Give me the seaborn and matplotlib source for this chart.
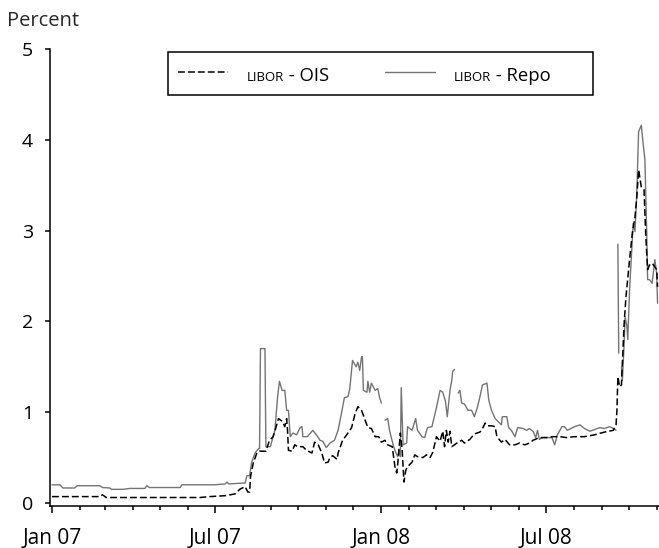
import numpy as np
import pandas as pd
import matplotlib
matplotlib.use("Agg")
import matplotlib.pyplot as plt
import matplotlib.dates as mdates
from matplotlib.lines import Line2D
from matplotlib.patches import Rectangle
from matplotlib.offsetbox import AnchoredOffsetbox, DrawingArea, HPacker, TextArea
import seaborn as sns

START = pd.Timestamp("2007-01-01")
nan = np.nan

# days after 1 Jan 2007 and spread in percent
ois_days = [0, 53, 56, 60, 164, 175, 192, 203, 208, 214,
            217, 219, 220, 223, 227, 230, 237, 241, 245, 249,
            251, 255, 258, 260, 261, 262, 266, 269, 272, 278,
            282, 288, 291, 295, 299, 302, 306, 308, 311, 316,
            317, 322, 328, 332, 336, 339, 343, 347, 350, 354,
            358, 362, 365, 369, 372, 377, 380, 382, 383, 386,
            388, 390, 392, 394, 399, 402, 405, 411, 415, 419,
            422, 426, 430, 433, 435, 437, 439, 441, 443, 446,
            450, 454, 457, 463, 468, 474, 476, 480, 483, 487,
            491, 493, 498, 502, 507, 513, 518, 524, 529, 533,
            540, 548, 555, 563, 570, 579, 590, 601, 612, 622,
            625, 626, 627, 629, 631, 632, 634, 636, 640, 643,
            646, 648, 650, 653, 656, 658, 660, 662, 665, 668,
            670, 671]
ois_values = [0.07, 0.07, 0.09, 0.06, 0.06, 0.07, 0.08, 0.10, 0.15, 0.18,
              0.12, 0.12, 0.29, 0.44, 0.55, 0.57, 0.57, 0.69, 0.73, 0.86,
              0.93, 0.90, 0.84, 0.93, 0.80, 0.58, 0.57, 0.64, 0.62, 0.62,
              0.58, 0.55, 0.67, 0.64, 0.55, 0.44, 0.45, 0.50, 0.52, 0.48,
              0.55, 0.69, 0.77, 0.83, 0.99, 1.06, 1.02, 0.91, 0.83, 0.82,
              0.73, 0.73, 0.67, 0.69, 0.64, 0.62, 0.40, 0.33, 0.42, 0.77,
              0.58, 0.23, 0.36, 0.40, 0.45, 0.53, 0.51, 0.50, 0.53, 0.50,
              0.56, 0.73, 0.68, 0.79, 0.62, 0.80, 0.67, 0.79, 0.62, 0.64,
              0.67, 0.69, 0.66, 0.70, 0.76, 0.78, 0.80, 0.88, 0.85, 0.85,
              0.84, 0.73, 0.67, 0.70, 0.64, 0.64, 0.66, 0.64, 0.66, 0.69,
              0.72, 0.72, 0.73, 0.73, 0.72, 0.73, 0.73, 0.75, 0.78, 0.80,
              0.86, 1.02, 1.39, 1.28, 1.30, 1.54, 1.98, 2.27, 2.68, 2.97,
              3.15, 3.37, 3.67, 3.48, 3.45, 2.93, 2.57, 2.62, 2.64, 2.60,
              2.57, 2.38]

# nan marks days without a repo quote (gaps in the line)
repo_days = [0, 9, 12, 25, 28, 53, 56, 64, 66, 79,
             86, 103, 105, 108, 142, 144, 180, 192, 194, 196,
             214, 216, 219, 221, 225, 229, 230, 231, 236, 237,
             242, 247, 250, 252, 255, 258, 260, 262, 264, 267,
             271, 275, 277, 278, 283, 289, 293, 297, 300, 304,
             308, 313, 317, 321, 324, 328, 330, 333, 337, 339,
             341, 343, 344, 345, 349, 350, 352, 354, 358, 361,
             363, 365, 366, 369, 372, 374, 378, 380, 383, 385,
             386, 387, 389, 393, 394, 399, 403, 405, 410, 413,
             416, 421, 426, 430, 433, 436, 438, 441, 443, 444,
             446, 448, 450, 452, 454, 457, 461, 465, 468, 471,
             474, 477, 482, 484, 487, 491, 494, 498, 499, 504,
             506, 509, 513, 516, 522, 526, 529, 533, 536, 538,
             540, 544, 548, 554, 557, 560, 565, 568, 571, 579,
             585, 590, 596, 607, 612, 618, 622, 625, 626, 627,
             628, 629, 631, 632, 634, 635, 637, 638, 640, 644,
             646, 648, 650, 653, 655, 657, 659, 660, 662, 665,
             668, 670, 671]
repo_values = [0.20, 0.20, 0.165, 0.165, 0.19, 0.19, 0.17, 0.165, 0.15, 0.15,
               0.16, 0.16, 0.19, 0.17, 0.17, 0.20, 0.20, 0.21, 0.23, 0.21,
               0.22, 0.30, 0.30, 0.44, 0.55, 0.60, 0.60, 1.70, 1.70, 0.62,
               0.62, 0.80, 1.17, 1.34, 1.24, 1.24, 1.02, 1.02, 0.73, 0.77,
               0.75, 0.83, 0.84, 0.73, 0.73, 0.80, 0.75, 0.69, 0.68, 0.61,
               0.66, 0.69, 0.80, 1.00, 1.16, 1.17, 1.26, 1.57, 1.50, 1.55,
               1.46, 1.61, 1.61, 1.24, 1.22, 1.34, 1.22, 1.32, 1.24, 1.26,
               1.16, 1.10, nan, 0.91, 0.93, 0.80, 0.64, 0.58, 0.51, 0.58,
               0.51, 1.27, 0.64, 0.66, 0.84, 0.80, 0.93, 0.80, 0.73, 0.72,
               0.83, 0.84, 1.05, 1.24, 1.22, 1.12, 0.95, 1.24, 1.35, 1.45,
               1.47, nan, 1.21, 1.24, 1.10, 1.09, 1.02, 1.02, 0.95, 1.04,
               1.16, 1.30, 1.32, 1.13, 1.02, 0.93, 0.90, 0.86, 0.95, 0.95,
               0.83, 0.80, 0.73, 0.83, 0.82, 0.80, 0.82, 0.79, 0.72, 0.80,
               0.70, 0.72, 0.72, 0.72, 0.64, 0.75, 0.84, 0.84, 0.80, 0.84,
               0.86, 0.82, 0.79, 0.83, 0.82, 0.84, 0.82, 0.80, nan, 2.85,
               1.65, nan, 1.50, 1.35, 1.76, 2.05, 1.95, 1.80, 2.35, 3.08,
               2.99, 3.41, 4.09, 4.16, 3.96, 3.78, 2.97, 2.46, 2.46, 2.42,
               2.68, 2.53, 2.20]


def to_frame(days, values):
    df = pd.DataFrame({"date": START + pd.to_timedelta(days, unit="D"),
                       "spread": values})
    df["segment"] = df["spread"].isna().cumsum()
    return df.dropna()


def legend_entry(ax, x, y, line_kws, name):
    da = DrawingArea(36, 14, 0, 0)
    da.add_artist(Line2D([0, 36], [7, 7], **line_kws))
    gap = DrawingArea(13.5, 1, 0, 0)
    small = TextArea("LIBOR", textprops=dict(size=9.5, color="black"))
    big = TextArea(" - " + name, textprops=dict(size=13.3, color="black"))
    pack = HPacker(children=[da, gap, small, big], align="baseline", pad=0, sep=0)
    box = AnchoredOffsetbox(loc="center left", child=pack, pad=0, borderpad=0,
                            frameon=False, bbox_to_anchor=(x, y),
                            bbox_transform=ax.transAxes)
    ax.add_artist(box)


ois = to_frame(ois_days, ois_values)
repo = to_frame(repo_days, repo_values)

sns.set_style("ticks")
plt.rcParams["font.family"] = ["Open Sans", "DejaVu Sans"]

fig = plt.figure(figsize=(6.59, 5.48), dpi=100)
ax = fig.add_axes([50 / 659, 1 - 505.5 / 548, 609 / 659, 456.5 / 548])

repo_style = dict(color="#747474", linewidth=1.0)
ois_style = dict(color="black", linewidth=1.1, linestyle=(0, (4.5, 2)))

sns.lineplot(data=repo, x="date", y="spread", units="segment", estimator=None,
             ax=ax, **repo_style)
sns.lineplot(data=ois, x="date", y="spread", units="segment", estimator=None,
             ax=ax, **ois_style)

ax.set_xlim(START - pd.Timedelta(days=2.2), START + pd.Timedelta(days=672.6))
ax.set_ylim(-0.028, 5)
ax.set_yticks([0, 1, 2, 3, 4, 5])
ax.set_xlabel("")
ax.set_ylabel("")

ax.xaxis.set_major_locator(mdates.MonthLocator(bymonth=[1, 7]))
ax.xaxis.set_minor_locator(mdates.MonthLocator())
ax.xaxis.set_major_formatter(mdates.DateFormatter("%b %y"))

sns.despine(ax=ax)
for side in ["left", "bottom"]:
    ax.spines[side].set_linewidth(1.1)
    ax.spines[side].set_color("black")

ax.tick_params(axis="y", direction="out", length=3.6, width=1.1, pad=8.6,
               labelsize=14, colors="black")
ax.tick_params(axis="x", which="major", direction="out", length=5, width=1.1,
               pad=11, labelsize=15, colors="black")
ax.tick_params(axis="x", which="minor", direction="out", length=2.9, width=1.1,
               colors="black")

# legend frame with small-caps labels
ax.add_patch(Rectangle((0.1938, 0.8992), 0.6979, 0.0942, transform=ax.transAxes,
                       facecolor="white", edgecolor="black", linewidth=1.1,
                       zorder=5, clip_on=False))
legend_entry(ax, 0.2102, 0.9463, ois_style, "OIS")
legend_entry(ax, 0.5501, 0.9463, repo_style, "Repo")

fig.text(7 / 659, 1 - 26 / 548, "Percent", fontsize=14.5, ha="left",
         va="baseline")

fig.savefig("out.png", dpi=100)
